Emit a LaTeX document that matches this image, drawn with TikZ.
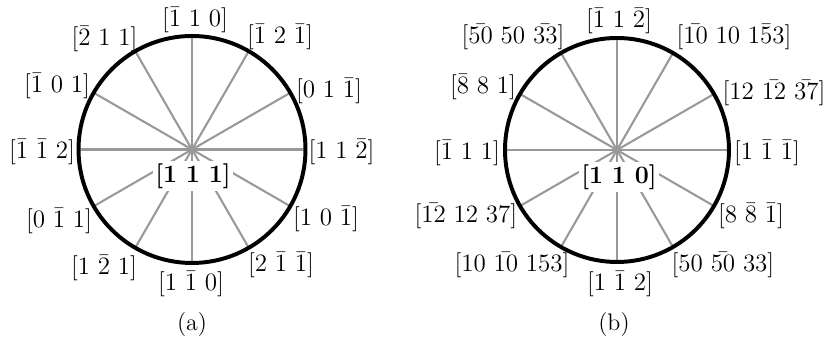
\documentclass[tikz,border=0pt]{standalone}
\usepackage{tikz}
\usetikzlibrary{positioning,calc}

\tikzset{
  rim/.style={draw=black, line width=1.9pt},
  spoke/.style={draw=black!40, line width=1pt},
  dirlabel/.style={font=\fontsize{11.5pt}{13pt}\selectfont, inner sep=1pt},
  zonelabel/.style={font=\fontsize{13pt}{15pt}\selectfont\boldmath, fill=white, inner sep=1.2pt},
  caption/.style={font=\fontsize{11.5pt}{13pt}\selectfont}
}

\begin{document}
\begin{tikzpicture}[x=0.48pt,y=0.48pt]
  \fill[white] (0,0) rectangle (826,343);
  \useasboundingbox (0,0) rectangle (826,343);

  % (a) zone axis [1 1 1]
  \coordinate (ca) at (192,193.5);
  \foreach \ang in {0,30,...,330}
    \draw[spoke] (ca) -- ($(ca)+(\ang:113.5)$) coordinate (ca\ang);
  \draw[rim] (ca) circle[radius=113.5];
  \foreach \px/\py/\txt [count=\i] in {
      195/323/{[\bar{1}\ 1\ 0]}, 280/306/{[\bar{1}\ 2\ \bar{1}]},
      329/252/{[0\ 1\ \bar{1}]}, 341.5/191/{[1\ 1\ \bar{2}]},
      326/124/{[1\ 0\ \bar{1}]}, 281/78/{[2\ \bar{1}\ \bar{1}]},
      191/59/{[1\ \bar{1}\ 0]}, 104/75/{[1\ \bar{2}\ 1]},
      59/122/{[0\ \bar{1}\ 1]}, 42/191/{[\bar{1}\ \bar{1}\ 2]},
      57/257/{[\bar{1}\ 0\ 1]}, 104.5/304/{[\bar{2}\ 1\ 1]}}
    \node[dirlabel] (la\i) at (\px,\py) {$\txt$};
  \node[zonelabel] (za) at (193,167) {$[1\ 1\ 1]$};
  \node[caption] (capa) at (192,18) {(a)};

  % (b) zone axis [1 1 0]
  \coordinate (cb) at (617,193);
  \foreach \ang in {0,30,...,330}
    \draw[spoke] (cb) -- ($(cb)+(\ang:112)$) coordinate (cb\ang);
  \draw[rim] (cb) circle[radius=112];
  \foreach \px/\py/\txt [count=\i] in {
      619/322/{[\bar{1}\ 1\ \bar{2}]}, 734/306/{[\bar{10}\ 10\ 1\bar{5}3]},
      774/250/{[12\ \bar{12}\ \bar{37}]}, 767/190/{[1\ \bar{1}\ \bar{1}]},
      751/127/{[8\ \bar{8}\ \bar{1}]}, 723/78/{[50\ \bar{50}\ 33]},
      620/59/{[1\ \bar{1}\ 2]}, 512/78/{[10\ \bar{10}\ 153]},
      466/127/{[\bar{12}\ 12\ 37]}, 467/190/{[\bar{1}\ 1\ 1]},
      483/256/{[\bar{8}\ 8\ 1]}, 513/306/{[\bar{50}\ 50\ \bar{33}]}}
    \node[dirlabel] (lb\i) at (\px,\py) {$\txt$};
  \node[zonelabel] (zb) at (619,166) {$[1\ 1\ 0]$};
  \node[caption] (capb) at (614,18) {(b)};
\end{tikzpicture}
\end{document}
